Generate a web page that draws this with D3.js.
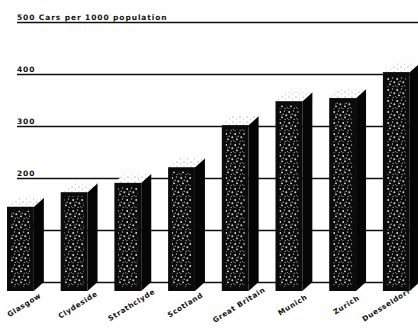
<!DOCTYPE html>
<html>
<head>
<meta charset="utf-8">
<script src="https://cdn.jsdelivr.net/npm/d3@7"></script>
<style>
  html, body { margin: 0; padding: 0; background: #fff; }
  svg { display: block; }
  .lbl { font-family: "DejaVu Sans", sans-serif; font-weight: bold; fill: #111; }
</style>
</head>
<body>
<svg id="chart" width="418" height="329"></svg>
<script>
// Cars per 1000 population
const places = ["Glasgow", "Clydeside", "Strathclyde", "Scotland", "Great Britain", "Munich", "Zurich", "Duesseldorf"];
const carsPer1000 = [162, 190, 208, 238, 319, 365, 371, 421];
const tickValues = [0, 100, 200, 300, 400, 500];
const unitLabel = "Cars per 1000 population";

const W = 418, H = 329;
const DX = 10, DY = 9;           // depth offset of the block bars

const svg = d3.select("#chart");

const x = d3.scaleBand()
  .domain(places)
  .range([7, 409.75])
  .paddingInner(0.5)
  .paddingOuter(0)
  .align(0);

const y = d3.scaleLinear()
  .domain([0, 500])
  .range([282, 22]);

// speckled fill for the bar fronts
const defs = svg.append("defs");
const pat = defs.append("pattern")
  .attr("id", "speckle")
  .attr("patternUnits", "userSpaceOnUse")
  .attr("width", 9).attr("height", 11);
pat.append("rect").attr("width", 9).attr("height", 11).attr("fill", "#0b0b0b");
const specks = [[1.2, 2, 0.9, 1], [5.5, 1, 0.7, 0.8], [7.3, 5.2, 1.0, 0.9], [3, 7.3, 0.9, 1],
                [6.2, 9.4, 0.7, 0.7], [1, 9.6, 0.6, 0.7], [4.2, 4.2, 0.7, 0.8], [8.4, 8.6, 0.6, 0.6],
                [2.4, 5, 0.5, 0.6]];
pat.selectAll("circle").data(specks).join("circle")
  .attr("cx", d => d[0]).attr("cy", d => d[1]).attr("r", d => d[2])
  .attr("fill", "#e6e6e6").attr("opacity", d => d[3]);

const patTop = defs.append("pattern")
  .attr("id", "lid")
  .attr("patternUnits", "userSpaceOnUse")
  .attr("width", 7).attr("height", 5);
patTop.append("rect").attr("width", 7).attr("height", 5).attr("fill", "#fff");
patTop.append("circle").attr("cx", 2).attr("cy", 2).attr("r", 0.6).attr("fill", "#777");
patTop.append("circle").attr("cx", 5.5).attr("cy", 4).attr("r", 0.5).attr("fill", "#999");

// value rules with labels sitting on them
const axis = d3.axisLeft(y).tickValues(tickValues).tickSize(0).tickFormat("");
const gAxis = svg.append("g").call(axis);
gAxis.select(".domain").remove();
gAxis.selectAll(".tick").append("line")
  .attr("x1", 17).attr("x2", W)
  .attr("stroke", "#111").attr("stroke-width", 1.7);
gAxis.selectAll(".tick").append("text")
  .attr("class", "lbl")
  .attr("x", 17).attr("y", -3)
  .attr("text-anchor", "start")
  .attr("font-size", 7.5)
  .attr("letter-spacing", 0.9)
  .text(d => d === 500 ? d + " " + unitLabel : d);

// block bars
const data = places.map((p, i) => ({ place: p, value: carsPer1000[i] }));
const w = x.bandwidth();
const bars = svg.append("g").selectAll("g").data(data).join("g");

bars.each(function (d) {
  const g = d3.select(this);
  const x0 = x(d.place);
  const yTop = y(d.value) + DY;
  const yBot = y(0) + DY;
  // side
  g.append("path")
    .attr("d", `M${x0 + w},${yTop} L${x0 + w + DX},${yTop - DY} L${x0 + w + DX},${yBot - DY} L${x0 + w},${yBot} Z`)
    .attr("fill", "#050505");
  // lid
  g.append("path")
    .attr("d", `M${x0},${yTop} L${x0 + DX},${yTop - DY} L${x0 + w + DX},${yTop - DY} L${x0 + w},${yTop} Z`)
    .attr("fill", "url(#lid)");
  // front
  g.append("rect")
    .attr("x", x0).attr("y", yTop)
    .attr("width", w).attr("height", yBot - yTop)
    .attr("fill", "#0b0b0b");
  g.append("rect")
    .attr("x", x0 + 4).attr("y", yTop + 4)
    .attr("width", w - 8).attr("height", Math.max(0, yBot - yTop - 8))
    .attr("fill", "url(#speckle)");
});

// place names, slanted under each bar; kept inside the right edge
const ANG = 32, rad = ANG * Math.PI / 180;
const names = svg.append("g").selectAll("text").data(data).join("text")
  .attr("class", "lbl")
  .attr("font-size", 7.2)
  .attr("letter-spacing", 0.6)
  .attr("text-anchor", "middle")
  .text(d => d.place);
names.each(function (d) {
  const half = this.getComputedTextLength() / 2;
  let cx = x(d.place) + w / 2 + 5;
  const maxEnd = W - 4;
  if (cx + half * Math.cos(rad) + 3 > maxEnd) cx = maxEnd - 3 - half * Math.cos(rad);
  d3.select(this).attr("transform", `translate(${cx},${307}) rotate(${-ANG})`);
});
</script>
</body>
</html>
